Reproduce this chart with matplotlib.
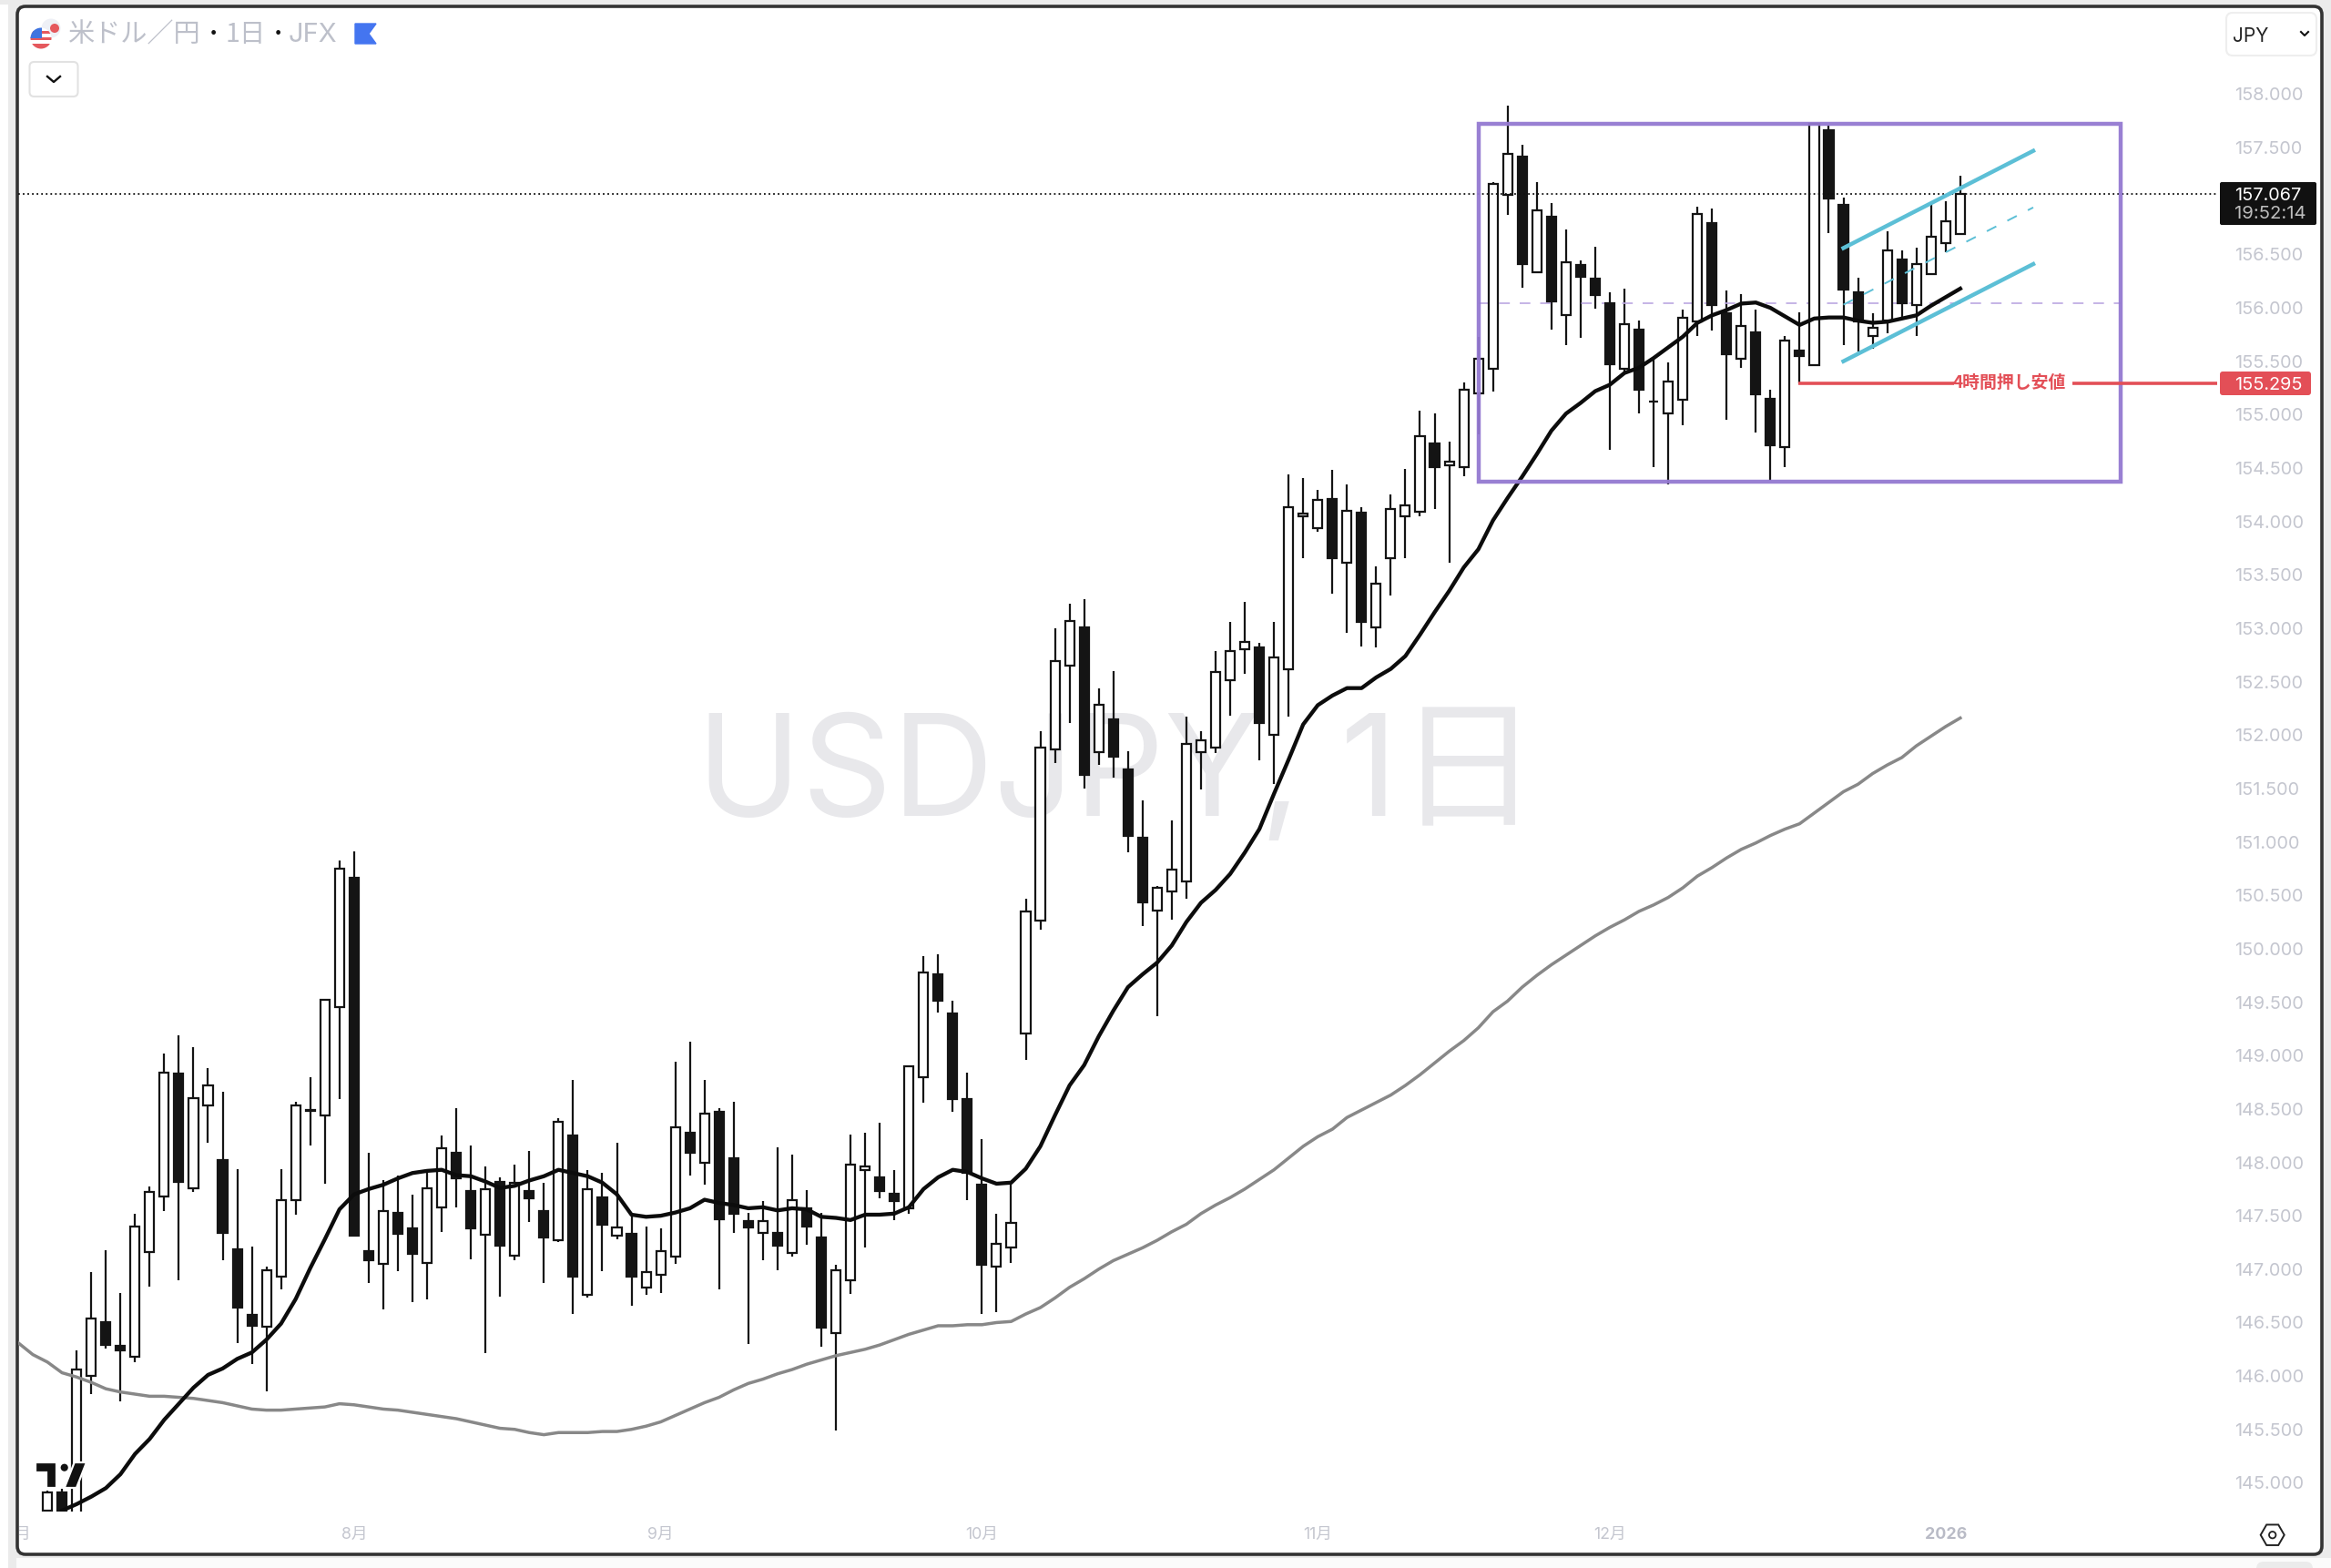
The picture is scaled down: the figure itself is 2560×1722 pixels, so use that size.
import numpy as np
import matplotlib
matplotlib.use("Agg")
import matplotlib.pyplot as plt
from matplotlib.patches import FancyBboxPatch, Rectangle, Circle, Polygon, RegularPolygon
from matplotlib.lines import Line2D
from matplotlib.transforms import Affine2D, Bbox

W, H = 2560, 1722
FONT = ["Inter", "Noto Sans CJK JP", "DejaVu Sans"]
CJK = ["Noto Sans CJK JP", "Inter", "DejaVu Sans"]
plt.rcParams["font.family"] = FONT

opens = [144.74,144.91,144.70,146.00,146.50,146.28,146.18,147.16,147.68,148.83,
147.76,148.53,148.02,147.19,146.57,146.46,146.93,147.65,148.48,148.44,
149.45,150.66,147.17,147.05,147.53,147.38,147.06,147.58,148.09,147.73,
147.32,147.82,147.13,147.73,147.54,147.27,148.25,146.76,147.67,147.31,
147.33,146.83,146.95,147.12,148.28,148.00,148.47,148.04,147.45,147.34,
147.34,147.15,147.57,147.30,146.40,146.90,147.93,147.86,147.71,147.57,
148.80,149.76,149.39,148.59,147.79,147.02,147.20,149.21,150.26,151.87,
152.65,153.01,151.84,152.15,151.68,151.04,150.36,150.54,150.63,151.84,
151.88,152.51,152.80,152.82,152.00,152.62,154.05,153.94,154.21,153.61,
154.08,153.01,153.66,154.05,154.09,154.73,154.53,154.51,155.20,155.43,
157.06,157.42,156.33,156.85,155.93,156.40,156.27,156.04,155.43,155.80,
155.12,155.01,155.14,155.87,156.79,155.95,155.52,155.77,155.15,154.70,
155.60,155.46,157.66,156.96,156.15,155.74,155.88,156.45,156.03,156.32,
156.61,156.69]
closes = [144.91,144.72,146.06,146.54,146.29,146.24,147.40,147.72,148.84,147.82,
148.60,148.72,147.34,146.64,146.47,146.99,147.65,148.53,148.49,149.52,
150.75,147.31,147.08,147.54,147.33,147.14,147.76,148.13,147.85,147.38,
147.75,147.22,147.81,147.66,147.30,148.38,146.93,147.75,147.42,147.39,
146.93,146.97,147.17,148.33,148.09,148.46,147.47,147.52,147.39,147.45,
147.22,147.65,147.40,146.45,146.99,147.98,147.96,147.73,147.64,148.90,
149.78,149.51,148.59,147.90,147.04,147.24,147.43,150.35,151.88,152.69,
153.07,151.63,152.28,151.80,151.06,150.43,150.57,150.74,151.92,151.95,
152.59,152.79,152.87,152.11,152.73,154.13,154.07,154.20,153.66,154.10,
153.06,153.42,154.12,154.15,154.80,154.51,154.56,155.23,155.52,157.16,
157.44,156.41,156.91,156.06,156.43,156.29,156.12,155.47,155.85,155.23,
155.12,155.31,155.91,156.88,156.03,155.57,155.83,155.19,154.71,155.69,
155.55,157.72,157.02,156.17,155.87,155.81,156.54,156.04,156.41,156.67,
156.81,157.07]
highs = [144.93,144.94,146.24,146.97,147.18,146.78,147.52,147.77,149.02,149.19,
149.08,148.88,148.66,147.94,147.21,147.02,147.94,148.57,148.80,149.53,
150.83,150.91,148.09,147.83,147.88,147.70,147.90,148.25,148.51,148.16,
147.96,147.86,147.98,148.11,147.81,148.41,148.77,147.93,147.90,148.18,
147.49,147.40,147.38,148.94,149.13,148.77,148.51,148.57,147.53,147.64,
148.14,148.07,147.74,147.53,147.04,148.26,148.28,148.37,147.93,148.91,
149.93,149.95,149.51,148.84,148.22,147.52,147.80,150.47,152.04,153.00,
153.23,153.27,152.44,152.60,151.85,151.39,150.59,151.20,152.17,152.04,
152.79,153.06,153.25,152.86,153.06,154.44,154.41,154.30,154.48,154.35,
154.13,153.58,154.25,154.49,155.04,155.01,154.75,155.30,155.73,157.18,
157.89,157.53,157.18,156.98,156.73,156.44,156.57,156.15,156.18,155.88,
155.53,155.49,155.98,156.95,156.93,156.16,156.13,155.98,155.23,155.74,
155.96,157.73,157.71,157.03,156.28,155.95,156.72,156.54,156.56,156.97,
157.00,157.24]
lows = [144.60,144.60,144.60,145.83,146.26,145.76,146.13,146.84,147.54,146.90,
147.72,148.18,147.08,146.31,146.11,145.86,146.81,147.51,148.16,147.80,
148.59,147.31,146.87,146.62,146.98,146.69,146.72,147.35,147.58,147.09,
146.21,146.74,147.08,147.44,146.87,147.25,146.58,146.73,146.98,147.28,
146.66,146.76,146.78,147.05,147.88,147.79,146.81,147.34,146.30,147.08,
146.99,147.12,147.23,146.27,145.49,146.77,147.20,147.66,147.46,147.52,
148.56,149.40,148.47,147.65,146.58,146.60,147.06,148.96,150.18,151.74,
152.11,151.50,151.72,151.60,150.90,150.21,149.37,150.27,150.47,151.49,
151.83,152.18,152.57,151.76,151.54,152.17,153.66,153.90,153.32,152.96,
152.83,152.82,153.31,153.66,154.05,154.12,153.61,154.42,154.82,155.22,
156.87,156.19,156.33,155.80,155.65,155.72,155.99,154.67,155.40,155.01,
154.51,154.35,154.90,155.74,155.79,154.95,155.44,154.83,154.38,154.51,
155.29,155.46,156.70,155.65,155.59,155.62,155.76,155.91,155.74,156.32,
156.52,156.69]

# fast moving average, first value on bar 1
ma_fast = [144.74,144.80,144.87,144.95,145.08,145.27,145.41,145.59,145.74,145.89,
146.01,146.07,146.16,146.22,146.34,146.49,146.72,147.01,147.28,147.56,
147.70,147.75,147.79,147.85,147.90,147.92,147.93,147.88,147.87,147.82,
147.76,147.78,147.83,147.87,147.93,147.90,147.87,147.81,147.70,147.51,
147.49,147.50,147.53,147.57,147.65,147.62,147.60,147.57,147.58,147.55,
147.57,147.56,147.49,147.48,147.46,147.51,147.51,147.52,147.58,147.75,
147.86,147.93,147.91,147.85,147.80,147.81,147.94,148.15,148.44,148.72,
148.91,149.18,149.42,149.64,149.76,149.87,150.03,150.25,150.43,150.55,
150.70,150.90,151.12,151.45,151.77,152.10,152.28,152.37,152.44,152.44,
152.54,152.62,152.74,152.94,153.15,153.35,153.57,153.74,154.01,154.22,
154.42,154.63,154.85,155.01,155.11,155.22,155.28,155.39,155.44,155.53,
155.63,155.73,155.86,155.93,155.98,156.04,156.05,156.00,155.92,155.84,
155.90,155.91,155.91,155.88,155.86,155.87,155.90,155.93,156.02,156.10,
156.18]
# slow moving average, first value two bars left of bar 0
ma_slow = [146.31,146.20,146.13,146.03,145.99,145.94,145.88,145.85,145.83,145.81,
145.81,145.80,145.79,145.77,145.75,145.72,145.69,145.68,145.68,145.69,
145.70,145.71,145.74,145.73,145.71,145.69,145.68,145.66,145.64,145.62,
145.60,145.57,145.54,145.51,
145.50,145.47,145.45,145.47,145.47,145.47,145.48,145.48,145.50,145.53,
145.57,145.63,145.69,145.75,145.80,145.87,145.93,145.97,146.02,146.06,
146.11,146.15,146.19,146.22,146.25,146.29,146.34,146.39,146.43,146.47,
146.47,146.48,146.48,146.50,
146.51,146.58,146.64,146.73,146.83,146.91,147.00,147.08,147.14,147.20,
147.27,147.35,147.42,147.52,147.60,147.67,147.75,
147.84,147.93,148.04,148.15,148.24,148.31,148.42,148.49,148.56,148.63,
148.72,148.82,148.93,149.04,149.14,149.26,149.41,149.51,149.64,149.75,
149.85,149.94,150.03,150.12,
150.20,150.27,150.35,150.41,150.48,150.57,150.68,150.76,150.85,150.93,
150.99,151.06,151.12,151.17,151.27,151.37,151.47,151.54,151.64,151.72,
151.79,151.90,151.99,152.08,152.16]

price_ticks = [145,145.5,146,146.5,147,147.5,148,148.5,149,149.5,150,150.5,151,151.5,
               152,152.5,153,153.5,154,154.5,155,155.5,156,156.5,157.5,158]
date_tick_bars = [-2, 21, 42, 64, 87, 107, 130]
date_tick_labels = ["7月", "8月", "9月", "10月", "11月", "12月", "2026"]

last_price = 157.067
countdown = "19:52:14"
pullback_low = 155.295
pullback_label = "4時間押し安値"
box_left, box_right, box_top, box_bottom = 98, 142, 157.72, 154.37
chan_x = [123, 136]
chan_upper = [156.56, 157.47]
chan_mid = [156.03, 156.94]
chan_lower = [155.50, 156.41]

GREY = "#c4c6cf"
INK = "#141414"
PURPLE = "#9479d1"
TEAL = "#5cbfd6"
RED = "#e34f57"

fig = plt.figure(figsize=(W / 100, H / 100), dpi=100, facecolor="#ebebeb")
PX = Affine2D().scale(1, -1).translate(0, H)

# page furniture behind the chart
fig.add_artist(Rectangle((0, 5), 9, 1717, fc="white", ec="none", transform=PX, zorder=-5))
fig.add_artist(Rectangle((18, 1711), 2542, 11, fc="#fbfbfb", ec="none", transform=PX, zorder=-5))
fig.add_artist(FancyBboxPatch((2478, 1715), 62, 20, boxstyle="round,pad=0,rounding_size=8",
                              fc="#ebebeb", ec="none", transform=PX, zorder=-4))
fig.add_artist(FancyBboxPatch((19, 7), 2531, 1700, boxstyle="round,pad=0,rounding_size=9",
                              fc="white", ec="#333333", lw=2.6, transform=PX, zorder=-3))
fig.text(1227, H - 855, "USDJPY, 1日", transform=Affine2D(), ha="center", va="center",
         fontsize=111.5, color="#e8e8eb", family=["Inter", "Noto Sans CJK JP"], zorder=-2)

# chart axes: bar i sits at 52.1 + 16.036*i px, price p at 103.5 + (158-p)*117.3 px
AL, AR, AT, AB = 20, 2435, 8, 1660
ax = fig.add_axes([AL / W, 1 - AB / H, (AR - AL) / W, (AB - AT) / H], facecolor="none")
ax.set_xlim((AL - 52.1) / 16.036, (AR - 52.1) / 16.036)
ax.set_ylim(158 - (AB - 103.5) / 117.3, 158 - (AT - 103.5) / 117.3)
for s in ax.spines.values():
    s.set_visible(False)

bars = np.arange(len(opens))
o, c, hi, lo = map(np.array, (opens, closes, highs, lows))
up = c >= o
ax.vlines(bars, lo, hi, color=INK, lw=1.6, zorder=2)
ax.bar(bars[up], (c - o)[up], bottom=o[up], width=0.63, fc="white", ec=INK, lw=1.6, zorder=3)
ax.bar(bars[~up], (c - o)[~up], bottom=o[~up], width=0.63, fc=INK, ec=INK, lw=1.6, zorder=3)

ax.plot(np.arange(-2, -2 + len(ma_slow)), ma_slow, color="#888888", lw=2.5, zorder=4, solid_joinstyle="round")
ax.plot(np.arange(1, 1 + len(ma_fast)), ma_fast, color="#0c0c0c", lw=3.1, zorder=5, solid_joinstyle="round")

ax.axhline(last_price, color="#111111", lw=1.3, ls=(0, (1, 1.8)), zorder=4)

ax.add_patch(Rectangle((box_left, box_bottom), box_right - box_left, box_top - box_bottom,
                       fc="none", ec=PURPLE, lw=3.2, alpha=0.95, zorder=6))
ax.hlines((box_top + box_bottom) / 2, box_left, box_right, color="#bba8e2", lw=1.2,
          linestyles=(0, (7, 6.5)), zorder=2.5)

ax.plot(chan_x, chan_upper, color=TEAL, lw=3.2, zorder=6)
ax.plot(chan_x, chan_lower, color=TEAL, lw=3.2, zorder=6)
ax.plot(chan_x, chan_mid, color=TEAL, lw=1.4, ls=(0, (6, 7)), zorder=6)

ax.hlines(pullback_low, 119.9, 130.55, color=RED, lw=2.6, zorder=6)
ax.hlines(pullback_low, 138.7, ax.get_xlim()[1], color=RED, lw=2.6, zorder=6)
ax.text(134.35, pullback_low, pullback_label, color=RED, fontsize=13.6, weight="bold",
        family=CJK, ha="center", va="center", zorder=7)

ax.yaxis.tick_right()
ax.set_yticks(price_ticks, [f"{v:.3f}" for v in price_ticks])
ax.tick_params(axis="y", length=0, pad=13.7, labelsize=14.3, labelcolor=GREY)
ax.set_xticks(date_tick_bars, date_tick_labels)
ax.tick_params(axis="x", length=0, pad=12, labelsize=12.8, labelcolor=GREY)
for lbl in ax.get_xticklabels():
    lbl.set_family(FONT)
    lbl.set_clip_box(Bbox([[21, 0], [W, H]]))
    lbl.set_clip_on(True)
    if lbl.get_text() == "2026":
        lbl.set_weight("bold")
        lbl.set_color("#b9bbc6")
        lbl.set_clip_on(False)


def ptext(x, y, s, **kw):
    kw.setdefault("va", "center")
    kw.setdefault("zorder", 10)
    fig.text(x, H - y, s, transform=Affine2D(), **kw)


# legend / header
jp = Circle((56, 31), 10.5, fc="#eef0f6", ec="none", transform=PX, zorder=8)
fig.add_artist(jp)
fig.add_artist(Circle((60, 31), 5, fc="#e5585d", ec="none", transform=PX, zorder=8))
us = Circle((45, 42), 11.5, fc="white", ec="none", transform=PX, zorder=8.5)
fig.add_artist(us)
for yy in (34, 41, 48):
    st = Rectangle((33, yy), 24, 3.3 if yy < 48 else 8, fc="#e5585d", ec="none", transform=PX, zorder=8.6)
    fig.add_artist(st)
    st.set_clip_path(us)
cant = Rectangle((33, 30), 13, 12, fc="#3f74e0", ec="none", transform=PX, zorder=8.7)
fig.add_artist(cant)
cant.set_clip_path(us)

HEAD = "#bdc0ca"
ptext(75, 38.5, "米ドル／円", fontsize=21, color=HEAD, family=CJK)
ptext(234, 38.5, "·", fontsize=20, color="#111111", weight="bold", ha="center")
ptext(248, 38.5, "1日", fontsize=20.5, color=HEAD, family=CJK)
ptext(305, 38.5, "·", fontsize=20, color="#111111", weight="bold", ha="center")
ptext(317, 38.5, "JFX", fontsize=21, color=HEAD, family=FONT)
fig.add_artist(Polygon([(390, 26), (413, 26), (405, 37), (413, 48), (390, 48)], closed=True,
                       fc="#4475f0", ec="#4475f0", lw=1, transform=PX, zorder=8))

fig.add_artist(FancyBboxPatch((32.5, 68), 53, 38, boxstyle="round,pad=0,rounding_size=5",
                              fc="white", ec="#e2e2e2", lw=1.5, transform=PX, zorder=8))
fig.add_artist(Line2D([52, 59, 66], [84, 90, 84], color="#111111", lw=1.7, transform=PX, zorder=9))

fig.add_artist(FancyBboxPatch((2445, 14), 99, 47, boxstyle="round,pad=0,rounding_size=7",
                              fc="white", ec="#eeeeee", lw=1.5, transform=PX, zorder=8))
ptext(2452, 39.5, "JPY", fontsize=15, color="#222222", family=FONT)
fig.add_artist(Line2D([2527, 2531, 2535], [35, 39, 35], color="#111111", lw=1.5, transform=PX, zorder=9))

# last price tag
fig.add_artist(FancyBboxPatch((2438, 200), 106, 47, boxstyle="round,pad=0,rounding_size=2",
                              fc="#111111", ec="none", transform=PX, zorder=8))
ptext(2454, 214.5, f"{last_price:.3f}", fontsize=14.3, color="white", family=FONT)
ptext(2454, 235.5, countdown, fontsize=14.6, color="#bdbdbd", family=FONT)
# pullback price tag
fig.add_artist(FancyBboxPatch((2438, 408), 100, 26, boxstyle="round,pad=0,rounding_size=3",
                              fc=RED, ec="none", transform=PX, zorder=8))
ptext(2454, 422.5, f"{pullback_low:.3f}", fontsize=14.3, color="white", family=FONT)

# settings hexagon
fig.add_artist(RegularPolygon((2495.7, 1685.7), 6, radius=13, orientation=np.pi / 6, fc="white",
                              ec="#222222", lw=1.4, transform=PX, zorder=8))
fig.add_artist(Circle((2495.7, 1685.7), 3.7, fc="white", ec="#222222", lw=1.3, transform=PX, zorder=9))

# TradingView mark
LOGO = dict(fc="#111111", ec="white", lw=1.6, transform=PX, zorder=8)
fig.add_artist(Polygon([(39, 1606), (61.7, 1606), (61.7, 1634), (50.7, 1634), (50.7, 1617.3), (39, 1617.3)], closed=True, **LOGO))
fig.add_artist(Circle((70.7, 1611.7), 5.2, **LOGO))
fig.add_artist(Polygon([(81.7, 1606), (95, 1606), (84, 1634), (70.7, 1634)], closed=True, **LOGO))

fig.savefig("out.png", dpi=100, facecolor=fig.get_facecolor())
